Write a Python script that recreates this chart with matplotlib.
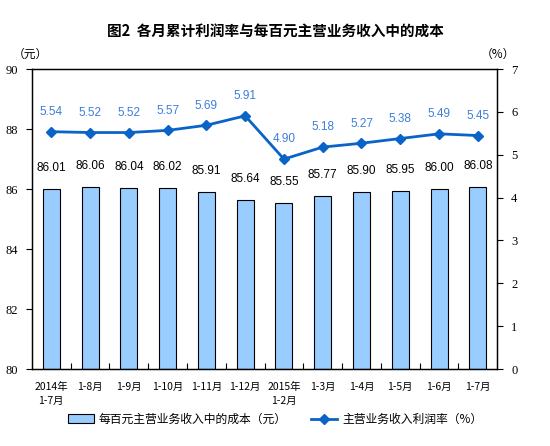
import matplotlib
matplotlib.use("Agg")
import matplotlib.pyplot as plt
from matplotlib.patches import Patch
from matplotlib.lines import Line2D
import numpy as np

plt.rcParams['font.family'] = ['Noto Sans CJK SC', 'DejaVu Sans']

months = ["2014年\n1-7月", "1-8月", "1-9月", "1-10月", "1-11月", "1-12月",
          "2015年\n1-2月", "1-3月", "1-4月", "1-5月", "1-6月", "1-7月"]
cost = [86.01, 86.06, 86.04, 86.02, 85.91, 85.64, 85.55, 85.77, 85.90, 85.95, 86.00, 86.08]
margin = [5.54, 5.52, 5.52, 5.57, 5.69, 5.91, 4.90, 5.18, 5.27, 5.38, 5.49, 5.45]

BAR_COLOR = "#99CCFF"
LINE_COLOR = "#0A64C8"
LABEL_COLOR = "#3C7DDC"
NUM_FONT = ['Liberation Sans', 'DejaVu Sans']
AXIS_FONT = ['Liberation Serif', 'DejaVu Serif']

fig = plt.figure(figsize=(5.5, 4.46), dpi=100)
ax = fig.add_axes([0.058, 0.1726, 0.846, 0.6724])
x = np.arange(len(months))

ax.bar(x, [c - 80 for c in cost], bottom=80, width=0.44, color=BAR_COLOR,
       edgecolor="black", linewidth=0.8, zorder=2)
for xi, c in zip(x, cost):
    ax.text(xi, c + 0.5, f"{c:.2f}", ha="center", va="bottom", fontsize=8.5,
            family=NUM_FONT)

ax.set_xlim(-0.5, len(months) - 0.5)
ax.set_ylim(80, 90)
ax.set_yticks(range(80, 91, 2))
ax.set_yticklabels([str(v) for v in range(80, 91, 2)], family=AXIS_FONT, fontsize=9)
ax.set_xticks(x)
ax.set_xticklabels(months, fontsize=7.5, linespacing=1.6)
ax.tick_params(axis="x", length=0, pad=9)
ax.set_xticks(np.arange(0.5, len(months) - 0.5, 1), minor=True)
ax.tick_params(axis="x", which="minor", direction="in", length=4, width=0.8)
ax.tick_params(axis="y", direction="out", length=4, width=0.8, pad=6)

ax2 = ax.twinx()
ax2.plot(x, margin, color=LINE_COLOR, linewidth=2, marker="D", markersize=5.5, zorder=3)
for xi, m in zip(x, margin):
    ax2.text(xi, m + 0.32, f"{m:.2f}", ha="center", va="bottom", fontsize=8.5,
             color=LABEL_COLOR, family=NUM_FONT)
ax2.set_ylim(0, 7)
ax2.set_yticks(range(0, 8))
ax2.set_yticklabels([str(v) for v in range(0, 8)], family=AXIS_FONT, fontsize=9)
ax2.tick_params(axis="y", direction="out", length=4, width=0.8, pad=6)

for a in (ax, ax2):
    for s in a.spines.values():
        s.set_linewidth(0.9)

fig.text(0.5, 0.928, "图2  各月累计利润率与每百元主营业务收入中的成本", ha="center",
         va="center", fontsize=10.5, fontweight="bold")
fig.text(0.055, 0.878, "（元）", ha="center", va="center", fontsize=8.5)
fig.text(0.905, 0.878, "（%）", ha="center", va="center", fontsize=8.5)

handles = [Patch(facecolor=BAR_COLOR, edgecolor="black", linewidth=0.8),
           Line2D([0], [0], color=LINE_COLOR, linewidth=2, marker="D", markersize=5.5)]
labels = ["每百元主营业务收入中的成本（元）", "主营业务收入利润率（%）"]
fig.legend(handles, labels, loc="center", bbox_to_anchor=(0.5, 0.06), ncol=2,
           frameon=False, fontsize=8.5, columnspacing=2.1, handlelength=2.2,
           handletextpad=0.4)

fig.savefig("out.png", dpi=100)
